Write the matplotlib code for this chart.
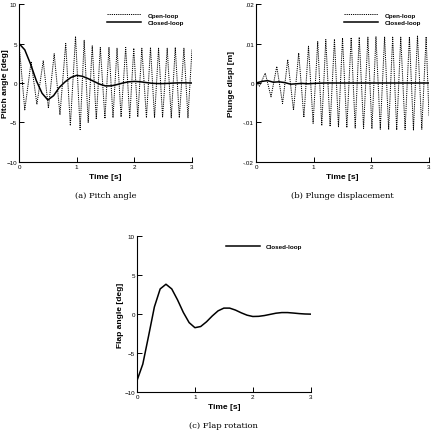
import numpy as np
import matplotlib
matplotlib.use("Agg")
import matplotlib.pyplot as plt

plt.rcParams['font.family'] = ['Liberation Sans', 'DejaVu Sans']

# pitch angle, open loop (peaks and troughs)
t_pitch_ol = [0.00, 0.10, 0.21, 0.31, 0.42, 0.51, 0.61, 0.71, 0.81, 0.89,
              0.98, 1.06, 1.13, 1.20, 1.27, 1.34, 1.41, 1.49, 1.56, 1.63,
              1.70, 1.77, 1.85, 1.92, 1.99, 2.06, 2.13, 2.21, 2.28, 2.35,
              2.42, 2.49, 2.57, 2.64, 2.71, 2.78, 2.86, 2.93, 3.00]
pitch_ol = [5.0, -3.4, 2.7, -2.7, 2.8, -3.2, 3.7, -4.0, 5.0, -5.4,
            5.9, -5.9, 5.4, -5.0, 4.7, -4.6, 4.5, -4.5, 4.5, -4.4,
            4.4, -4.3, 4.5, -4.4, 4.4, -4.3, 4.4, -4.4, 4.5, -4.4,
            4.4, -4.3, 4.4, -4.4, 4.5, -4.4, 4.4, -4.4, 4.3]

# closed loop curves sampled every 0.1 s
t_cl = [0.0, 0.1, 0.2, 0.3, 0.4, 0.5, 0.6, 0.7, 0.8, 0.9, 1.0,
        1.1, 1.2, 1.3, 1.4, 1.5, 1.6, 1.7, 1.8, 1.9, 2.0,
        2.1, 2.2, 2.3, 2.4, 2.5, 2.6, 2.7, 2.8, 2.9, 3.0]
pitch_cl = [5.0, 4.2, 2.4, 0.3, -1.3, -2.15, -1.6, -0.55, 0.15, 0.7, 0.97,
            0.85, 0.55, 0.2, -0.15, -0.37, -0.36, -0.2, 0.0, 0.15, 0.2,
            0.16, 0.06, -0.03, -0.07, -0.07, -0.04, 0.0, 0.02, 0.02, 0.0]
flap_cl = [-8.5, -6.4, -2.8, 0.9, 3.2, 3.8, 3.2, 1.8, 0.2, -1.1, -1.75,
           -1.6, -1.0, -0.25, 0.4, 0.75, 0.75, 0.5, 0.15, -0.15, -0.32,
           -0.3, -0.2, -0.05, 0.1, 0.18, 0.18, 0.12, 0.05, 0.0, -0.02]

# plunge displacement, open loop extrema
t_plunge_ol = [0.00, 0.06, 0.16, 0.26, 0.36, 0.46, 0.55, 0.65, 0.74, 0.83,
               0.91, 0.99, 1.07, 1.14, 1.21, 1.285, 1.36, 1.43, 1.50, 1.575,
               1.65, 1.72, 1.79, 1.865, 1.94, 2.01, 2.08, 2.155, 2.23, 2.30,
               2.37, 2.44, 2.51, 2.585, 2.66, 2.73, 2.80, 2.875, 2.95, 3.00]
plunge_ol = [0.0, -0.0008, 0.0025, -0.0035, 0.0042, -0.0052, 0.0059, -0.0069, 0.0076, -0.0087,
             0.0093, -0.0102, 0.0105, -0.0108, 0.0110, -0.0110, 0.0111, -0.0112, 0.0114, -0.0113,
             0.0115, -0.0114, 0.0116, -0.0115, 0.0116, -0.0116, 0.0117, -0.0117, 0.0117, -0.0118,
             0.0116, -0.0119, 0.0116, -0.0118, 0.0117, -0.0119, 0.0120, -0.0117, 0.0117, -0.0085]
t_plunge_cl = [0.0, 0.1, 0.2, 0.3, 0.4, 0.5, 0.6, 0.7, 0.8, 0.9, 1.0, 1.2, 1.5, 2.0, 2.5, 3.0]
plunge_cl = [0.0, 0.0004, 0.0006, 0.0002, 0.0003, 0.0001, -0.0003, -0.0002,
             -0.0001, -0.0002, -0.0001, 0.0, 0.0, 0.0, 0.0, 0.0]

captions = ['(a) Pitch angle', '(b) Plunge displacement', '(c) Flap rotation']

fig = plt.figure(figsize=(4.34, 4.35), dpi=100)
ax1 = fig.add_axes([0.0438, 0.6253, 0.3986, 0.3632])
ax2 = fig.add_axes([0.5899, 0.6253, 0.3986, 0.3632])
ax3 = fig.add_axes([0.3157, 0.0959, 0.4002, 0.3600])

ol_style = dict(color='black', lw=0.7, linestyle=(0, (1.2, 1.0)))
cl_style = dict(color='black', lw=1.1)

ax1.plot(t_pitch_ol, pitch_ol, label='Open-loop', **ol_style)
ax1.plot(t_cl, pitch_cl, label='Closed-loop', **cl_style)
ax1.set_ylim(-10, 10)
ax1.set_yticks([-10, -5, 0, 5, 10])
ax1.set_ylabel('Pitch angle [deg]')

ax2.plot(t_plunge_ol, plunge_ol, label='Open-loop', **ol_style)
ax2.plot(t_plunge_cl, plunge_cl, label='Closed-loop', **cl_style)
ax2.set_ylim(-0.02, 0.02)
ax2.set_yticks([-0.02, -0.01, 0, 0.01, 0.02])
ax2.set_yticklabels(['-.02', '-.01', '0', '.01', '.02'])
ax2.set_ylabel('Plunge displ [m]')

ax3.plot(t_cl, flap_cl, label='Closed-loop', **cl_style)
ax3.set_ylim(-10, 10)
ax3.set_yticks([-10, -5, 0, 5, 10])
ax3.set_ylabel('Flap angle [deg]')

# ylabel x position (axes coords) for each panel
ylab_x = [-0.058, -0.12, -0.075]

for ax, cap, yx in zip([ax1, ax2, ax3], captions, ylab_x):
    ax.set_xlim(0, 3)
    ax.set_xticks([0, 1, 2, 3])
    ax.set_xlabel('Time [s]', fontsize=6, fontweight='bold')
    ax.xaxis.set_label_coords(0.5, -0.07)
    ax.yaxis.label.set_fontsize(6)
    ax.yaxis.label.set_fontweight('bold')
    ax.yaxis.set_label_coords(yx, 0.5)
    ax.spines['top'].set_visible(False)
    ax.spines['right'].set_visible(False)
    ax.spines['left'].set_linewidth(0.8)
    ax.spines['bottom'].set_linewidth(0.8)
    ax.tick_params(direction='in', length=3.5, width=0.7, labelsize=4.5, pad=1.5)
    ax.legend(loc='upper right', frameon=False, prop={'size': 4.5, 'weight': 'bold'},
              handlelength=5.5, handletextpad=1.0, labelspacing=0.35,
              borderaxespad=0.9)
    # caption under each panel
    ax.text(0.5, -0.21, cap, transform=ax.transAxes, ha='center', va='center',
            fontsize=6, family='DejaVu Serif')

fig.savefig('out.png', dpi=100)
